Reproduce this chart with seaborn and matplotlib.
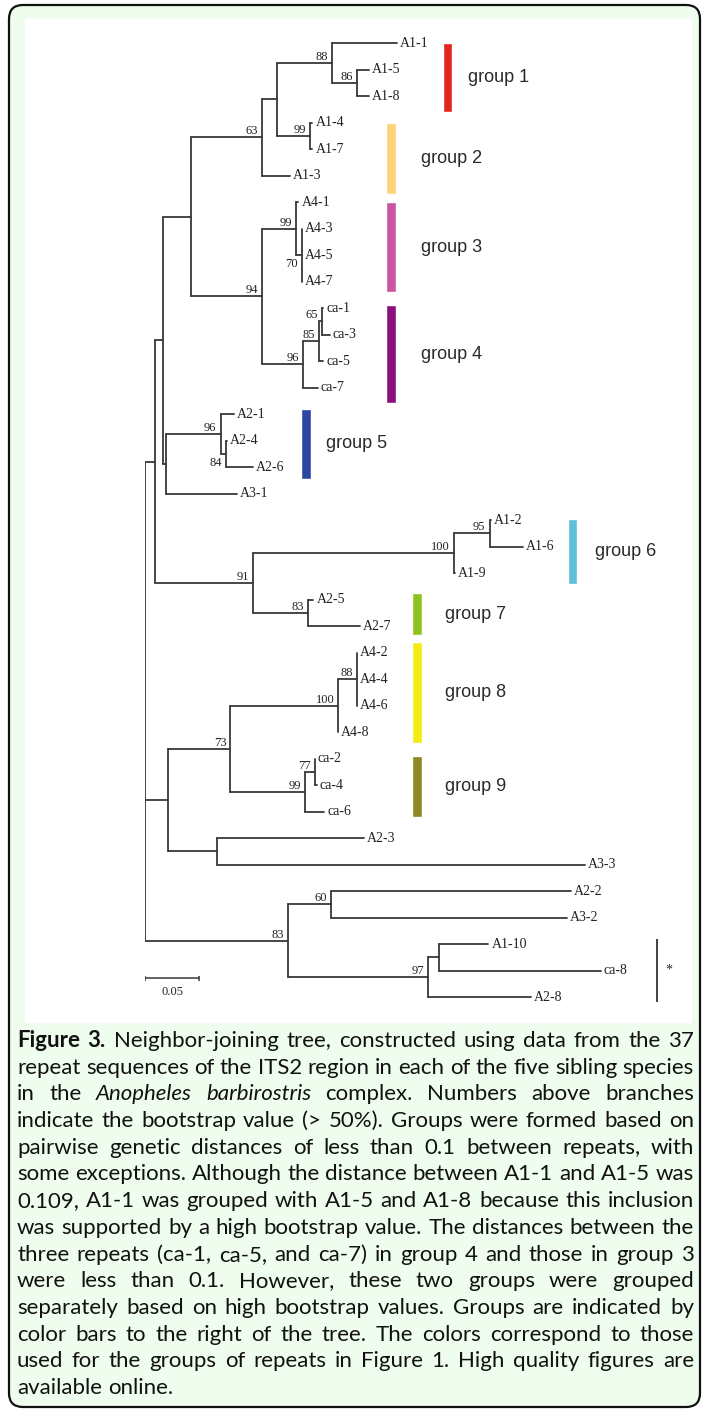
import matplotlib
matplotlib.use("Agg")
import matplotlib.pyplot as plt
from matplotlib.patches import FancyBboxPatch, Rectangle
import pandas as pd
import seaborn as sns

# ---- tree data ----
# leaves top -> bottom, their parent node and tip position (subst./site from root)
leaf_names = ["A1-1", "A1-5", "A1-8", "A1-4", "A1-7", "A1-3", "A4-1", "A4-3", "A4-5", "A4-7",
              "ca-1", "ca-3", "ca-5", "ca-7", "A2-1", "A2-4", "A2-6", "A3-1", "A1-2", "A1-6",
              "A1-9", "A2-5", "A2-7", "A4-2", "A4-4", "A4-6", "A4-8", "ca-2", "ca-4", "ca-6",
              "A2-3", "A3-3", "A2-2", "A3-2", "A1-10", "ca-8", "A2-8"]
leaf_parent = ["n88", "n86", "n86", "n99a", "n99a", "n63", "n99b", "n70", "n70", "n70",
               "n65", "n65", "n85", "n96a", "n96b", "n84", "n84", "q", "n95", "n95",
               "n100a", "n83a", "n83a", "n88b", "n88b", "n88b", "n100b", "n77", "n77", "n99c",
               "u", "u", "n60", "n60", "v", "v", "n97"]
leaf_depth = [0.233, 0.207, 0.207, 0.155, 0.155, 0.134, 0.142, 0.145, 0.145, 0.145,
              0.165, 0.171, 0.165, 0.160, 0.082, 0.076, 0.100, 0.085, 0.320, 0.350,
              0.287, 0.156, 0.199, 0.196, 0.196, 0.196, 0.179, 0.157, 0.159, 0.166,
              0.203, 0.407, 0.394, 0.391, 0.318, 0.422, 0.357]

node_names = ["root", "s", "r", "q", "p1", "n63", "na", "n88", "n86", "n99a", "n94", "n99b",
              "n70", "n96a", "n85", "n65", "n96b", "n84", "n91", "n100a", "n95", "n83a",
              "t", "n73", "n100b", "n88b", "n99c", "n77", "u", "n83b", "n60", "n97", "v"]
node_parent = [None, "root", "s", "r", "r", "p1", "n63", "na", "n88", "na", "p1", "n94",
               "n99b", "n94", "n96a", "n85", "q", "n96b", "s", "n91", "n100a", "n91",
               "root", "t", "n73", "n100b", "n73", "n99c", "t", "root", "n83b", "n83b", "n97"]
node_depth = [0.0, 0.009, 0.017, 0.019, 0.043, 0.108, 0.122, 0.173, 0.196, 0.153, 0.108, 0.140,
              0.145, 0.146, 0.161, 0.164, 0.070, 0.075, 0.100, 0.286, 0.319, 0.151,
              0.021, 0.079, 0.179, 0.196, 0.148, 0.157, 0.067, 0.132, 0.172, 0.262, 0.272]
node_boot = [0, 0, 0, 0, 0, 63, 0, 88, 86, 99, 94, 99,
             70, 96, 85, 65, 96, 84, 91, 100, 95, 83,
             0, 73, 100, 88, 99, 77, 0, 83, 60, 97, 0]
boot_below = ["n70", "n84"]

# colour bars: span in leaf rows
group_names = ["group 1", "group 2", "group 3", "group 4", "group 5",
               "group 6", "group 7", "group 8", "group 9"]
group_colors = ["#e3261b", "#fcd27a", "#c9579f", "#8a0f7e", "#2b46a2",
                "#5fbfd7", "#8dc21f", "#f4ea16", "#8b8a22"]
group_top = [0.0, 3.0, 6.0, 9.9, 13.8, 17.95, 20.75, 22.6, 26.9]
group_bottom = [2.6, 5.7, 9.4, 13.6, 16.45, 20.4, 22.35, 26.4, 29.2]
star_span = [33.8, 36.2]
scale_len = 0.05

caption_lines = [
    "Figure 3. Neighbor-joining tree, constructed using data from the 37",
    "repeat sequences of the ITS2 region in each of the five sibling species",
    "in the Anopheles barbirostris complex. Numbers above branches",
    "indicate the bootstrap value (> 50%). Groups were formed based on",
    "pairwise genetic distances of less than 0.1 between repeats, with",
    "some exceptions. Although the distance between A1-1 and A1-5 was",
    "0.109, A1-1 was grouped with A1-5 and A1-8 because this inclusion",
    "was supported by a high bootstrap value. The distances between the",
    "three repeats (ca-1, ca-5, and ca-7) in group 4 and those in group 3",
    "were less than 0.1. However, these two groups were grouped",
    "separately based on high bootstrap values. Groups are indicated by",
    "color bars to the right of the tree. The colors correspond to those",
    "used for the groups of repeats in Figure 1. High quality figures are",
    "available online.",
]
bold_words = ["Figure", "3."]
italic_words = ["Anopheles", "barbirostris"]

# layout (x in tree units)
bar_x = [0.280, 0.228, 0.228, 0.228, 0.149, 0.396, 0.252, 0.252, 0.252]
label_x = [0.299, 0.256, 0.256, 0.256, 0.168, 0.417, 0.278, 0.278, 0.278]
star_x = 0.474

sns.set_theme(style="white")
plt.rcParams["font.family"] = ["Liberation Serif", "DejaVu Sans"]

fig = plt.figure(figsize=(7.04, 14.12), dpi=100)
fig.patch.set_facecolor("white")

# page frame, 1 data unit = 1 pixel
bg = fig.add_axes([0, 0, 1, 1])
bg.set_xlim(0, 704)
bg.set_ylim(1412, 0)
bg.set_axis_off()
bg.add_patch(FancyBboxPatch((9, 5), 691, 1402, boxstyle="round,pad=0,rounding_size=14",
                            facecolor="#eefdee", edgecolor="#111111", lw=1.6))
bg.add_patch(Rectangle((25, 19), 667, 1004, facecolor="white", edgecolor="none"))

# tree axes
ax = fig.add_axes([145 / 704, (1412 - 1010.25) / 1412, 545 / 704, 980.5 / 1412])

children = {}
for n, p in zip(leaf_names, leaf_parent):
    children.setdefault(p, []).append(n)
for n, p in zip(node_names, node_parent):
    if p:
        children.setdefault(p, []).append(n)
depth = dict(zip(leaf_names, leaf_depth))
depth.update(zip(node_names, node_depth))
ypos = {n: i for i, n in enumerate(leaf_names)}


def place(n):
    if n not in ypos:
        ys = [place(c) for c in children[n]]
        ypos[n] = (min(ys) + max(ys)) / 2
    return ypos[n]


place("root")

rows = []
k = 0
for p, kids in children.items():
    ys = [ypos[c] for c in kids]
    rows += [(k, depth[p], min(ys)), (k, depth[p], max(ys))]
    k += 1
    for c in kids:
        rows += [(k, depth[p], ypos[c]), (k, depth[c], ypos[c])]
        k += 1
seg = pd.DataFrame(rows, columns=["seg", "x", "y"])
sns.lineplot(data=seg, x="x", y="y", units="seg", estimator=None, sort=False,
             color="#383838", lw=1.3, ax=ax, legend=False)

for n in leaf_names:
    ax.annotate(n, (depth[n], ypos[n]), xytext=(3, 0), textcoords="offset pixels",
                ha="left", va="center", fontsize=10, color="#222222")

for n, b in zip(node_names, node_boot):
    if b:
        below = n in boot_below
        ax.annotate(str(b), (depth[n], ypos[n]), xytext=(-4, -3 if below else 3),
                    textcoords="offset pixels", ha="right",
                    va="top" if below else "baseline", fontsize=9, color="#222222")

# colour bars and group names
ax.bar(bar_x, [b - t for t, b in zip(group_top, group_bottom)], bottom=group_top,
       width=0.0088, color=group_colors, align="center")
for x, t, b, name in zip(label_x, group_top, group_bottom, group_names):
    ax.text(x, (t + b) / 2, name, ha="left", va="center", fontsize=13,
            family="Liberation Sans", color="#2a2a2a")

ax.vlines(star_x, star_span[0], star_span[1], color="#333333", lw=1.3)
ax.text(star_x + 0.011, sum(star_span) / 2, "*", ha="center", va="center", fontsize=10)

# scale bar
sb_y = 35.3
ax.plot([0, scale_len], [sb_y, sb_y], color="#383838", lw=1.1)
ax.vlines([0, scale_len], sb_y - 0.1, sb_y + 0.1, color="#383838", lw=1.1)
ax.text(scale_len / 2, sb_y + 0.27, "0.05", ha="center", va="top", fontsize=9, color="#222222")

ax.set_xlim(0, 545 / 1080)
ax.set_ylim(36.5, -0.5)
ax.set_axis_off()

# caption, justified word by word
cap_size = 16
cap_left, cap_right = 17, 694
fig.canvas.draw()
rend = fig.canvas.get_renderer()
lines = []
for i, line in enumerate(caption_lines):
    ws = []
    for w in line.split():
        t = bg.text(0, 1047 + 26.7 * i, w, family="Lato", fontsize=cap_size,
                    fontweight="bold" if (i == 0 and w in bold_words) else "normal",
                    fontstyle="italic" if w in italic_words else "normal",
                    ha="left", va="baseline", color="#111111")
        ws.append(t)
    lines.append(ws)


def widths():
    return [[t.get_window_extent(rend).width for t in ws] for ws in lines]


probe = bg.text(0, 0, "n n", family="Lato", fontsize=cap_size)
probe2 = bg.text(0, 0, "nn", family="Lato", fontsize=cap_size)
space = probe.get_window_extent(rend).width - probe2.get_window_extent(rend).width
probe.remove()
probe2.remove()

avail = cap_right - cap_left
wl = widths()
natural = max(sum(w) + 0.9 * space * (len(w) - 1) for w in wl[:-1])
if natural > avail:
    f = avail / natural
    for ws in lines:
        for t in ws:
            t.set_fontsize(cap_size * f)
    space *= f
    wl = widths()

for i, (ws, w) in enumerate(zip(lines, wl)):
    if i < len(lines) - 1:
        gap = (avail - sum(w)) / (len(w) - 1)
    else:
        gap = space
    x = cap_left
    for t, ww in zip(ws, w):
        t.set_x(x)
        x += ww + gap

fig.savefig("out.png", dpi=100)
